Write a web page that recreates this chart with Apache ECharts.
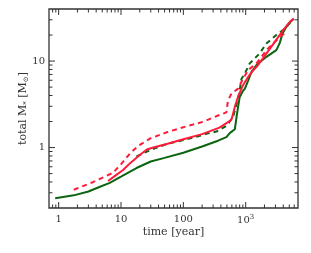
<!DOCTYPE html>
<html><head><meta charset="utf-8">
<script src="https://cdn.jsdelivr.net/npm/echarts@6/dist/echarts.min.js"></script>
<style>html,body{margin:0;padding:0;background:#fff}#c{width:311px;height:253px}</style>
</head><body><div id="c"></div>
<script>
// time [year], total M* [Msun]
var redSolid = [[6.2,0.41],[8,0.47],[10.8,0.55],[14,0.66],[20,0.82],[26,0.95],[33,1.0],[54,1.1],[100,1.25],[200,1.43],[380,1.7],[590,2.09],[630,2.5],[670,2.97],[755,3.87],[910,5.3],[1100,6.6],[1300,7.7],[1580,9.0],[2160,12.3],[2930,16.7],[3990,22.8],[5100,28.4],[5900,31]];
var redDashed = [[1.75,0.325],[3.6,0.40],[7.4,0.51],[10,0.64],[14,0.86],[19,1.05],[26,1.2],[29,1.27],[54,1.5],[100,1.72],[210,1.99],[360,2.35],[490,2.55],[520,3.5],[590,4.2],[755,4.8],[860,5.8],[1100,7.9],[1490,9.4],[2160,13.4],[3520,19],[4250,21]];
var greenSolid = [[0.88,0.26],[1.75,0.28],[3,0.31],[4.5,0.35],[6.6,0.39],[10,0.46],[17.7,0.58],[30,0.69],[50,0.76],[100,0.87],[200,1.03],[360,1.2],[490,1.32],[560,1.48],[670,1.63],[710,2.2],[755,2.95],[800,3.8],[900,4.5],[970,4.8],[1100,6.0],[1240,7.5],[1490,9.0],[2150,11.2],[3100,13.4],[3500,16],[3900,20.9],[4500,24.9],[5000,27.5],[5800,30.5]];
var greenDashed = [[17.7,0.79],[29,0.93],[54,1.1],[100,1.22],[160,1.33],[250,1.46],[340,1.53],[500,1.8],[630,2.28],[700,3.0],[785,4.2],[855,6.2],[970,7.2],[1160,9.4],[1320,10.3],[1680,12.3],[2150,16],[3100,20],[4250,23.8],[5800,30.5]];
var xMajorTicks = [1,10,100,1000];
var xMinorTicks = [0.8,0.9,2,3,4,5,6,7,8,9,20,30,40,50,60,70,80,90,200,300,400,500,600,700,800,900,2000,3000,4000,5000,6000];
var yMajorTicks = [1,10];
var yMinorTicks = [0.3,0.4,0.5,0.6,0.7,0.8,0.9,2,3,4,5,6,7,8,9,20,30];
var xRange = [0.7, 6900];
var yRange = [0.2, 40];

var RED = '#ff1a3a', GREEN = '#0b6410', AX = '#333333';
var FONT = 'DejaVu Serif';

function tickData(list, major, isX) {
  return list.map(function (v) { return isX ? [v, 1, major ? 1 : 0] : [1, v, major ? 1 : 0]; });
}
function makeTickRender(isX) {
  return function (params, api) {
    var cs = params.coordSys;
    var len = api.value(2) ? 6 : 3.5;
    var style = { stroke: AX, lineWidth: 1 };
    if (isX) {
      var x = api.coord([api.value(0), 1])[0];
      return { type: 'group', children: [
        { type: 'line', shape: { x1: x, y1: cs.y + cs.height, x2: x, y2: cs.y + cs.height - len }, style: style },
        { type: 'line', shape: { x1: x, y1: cs.y, x2: x, y2: cs.y + len }, style: style }
      ]};
    } else {
      var y = api.coord([1, api.value(1)])[1];
      return { type: 'group', children: [
        { type: 'line', shape: { x1: cs.x, y1: y, x2: cs.x + len, y2: y }, style: style },
        { type: 'line', shape: { x1: cs.x + cs.width, y1: y, x2: cs.x + cs.width - len, y2: y }, style: style }
      ]};
    }
  };
}
function isPow10(v) { var l = Math.log10(v); return Math.abs(l - Math.round(l)) < 1e-6; }

var chart = echarts.init(document.getElementById('c'), null, { renderer: 'canvas' });
chart.setOption({
  animation: false,
  grid: { left: 49, top: 9, width: 249, height: 199, show: true, borderColor: AX, borderWidth: 1.3, backgroundColor: 'transparent' },
  xAxis: {
    type: 'log', logBase: 10, min: xRange[0], max: xRange[1],
    axisLine: { show: false }, axisTick: { show: false }, splitLine: { show: false },
    axisLabel: {
      color: AX, fontFamily: FONT, fontSize: 10, margin: 6,
      formatter: function (v) {
        if (!isPow10(v)) return '';
        if (v >= 1000) return '10{sup|' + Math.round(Math.log10(v)) + '}';
        return String(Math.round(v));
      },
      rich: { sup: { fontSize: 7, verticalAlign: 'bottom', padding: [0, 0, 6, 0], fontFamily: FONT, color: AX } }
    },
    name: 'time [year]', nameLocation: 'middle', nameGap: 19, nameMoveOverlap: false,
    nameTextStyle: { color: AX, fontFamily: FONT, fontSize: 11 }
  },
  yAxis: {
    type: 'log', logBase: 10, min: yRange[0], max: yRange[1],
    axisLine: { show: false }, axisTick: { show: false }, splitLine: { show: false },
    axisLabel: {
      color: AX, fontFamily: FONT, fontSize: 10, margin: 4,
      formatter: function (v) { return isPow10(v) ? String(Math.round(v)) : ''; }
    },
    name: 'total M{sub|*} [M{sub|⊙}]', nameLocation: 'middle', nameGap: 26, nameMoveOverlap: false,
    nameTextStyle: { color: AX, fontFamily: FONT, fontSize: 11, verticalAlign: 'middle',
      rich: { sub: { fontSize: 7, verticalAlign: 'top', padding: [6, 0, 0, 0], fontFamily: FONT, color: AX } } }
  },
  series: [
    { type: 'line', data: greenSolid, showSymbol: false, lineStyle: { color: GREEN, width: 2 }, z: 3 },
    { type: 'line', data: greenDashed, showSymbol: false, lineStyle: { color: GREEN, width: 2, type: [5, 4] }, z: 3 },
    { type: 'line', data: redSolid, showSymbol: false, lineStyle: { color: RED, width: 2 }, z: 4 },
    { type: 'line', data: redDashed, showSymbol: false, lineStyle: { color: RED, width: 2, type: [5, 4] }, z: 4 },
    { type: 'custom', data: tickData(xMajorTicks, true, true).concat(tickData(xMinorTicks, false, true)), renderItem: makeTickRender(true), clip: false, silent: true, z: 5 },
    { type: 'custom', data: tickData(yMajorTicks, true, false).concat(tickData(yMinorTicks, false, false)), renderItem: makeTickRender(false), clip: false, silent: true, z: 5 }
  ]
});
</script></body></html>
